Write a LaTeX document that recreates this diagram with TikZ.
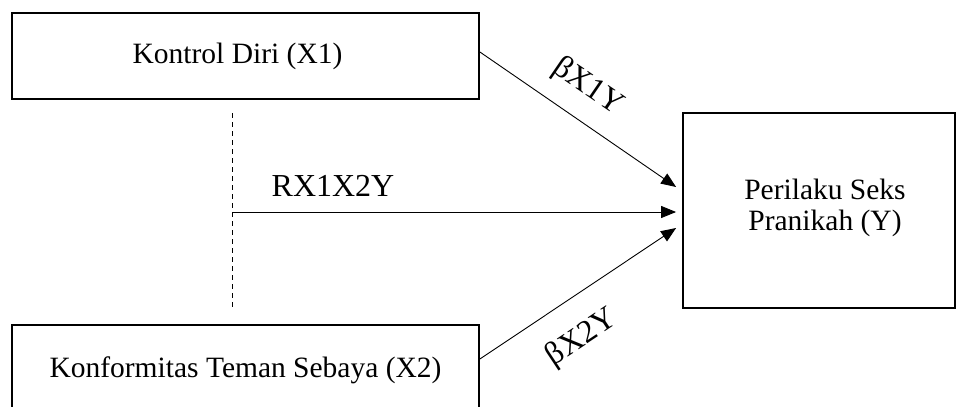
\documentclass[tikz,border=0pt]{standalone}
\usepackage{fontspec}
\setmainfont{Liberation Serif}
\usetikzlibrary{arrows.meta,calc}
\begin{document}
\begin{tikzpicture}[x=1pt,y=-1pt,
  box/.style={draw,line width=1.8pt,rectangle,inner sep=0pt,align=center,
    font=\fontsize{29.5}{31}\selectfont},
  link/.style={line width=0.9pt,-{Triangle[length=15pt,width=12pt]}},
  corr/.style={line width=0.9pt,dash pattern=on 5pt off 4pt},
  lbl/.style={font=\fontsize{32}{32}\selectfont,inner sep=0pt}]
\useasboundingbox (0,0) rectangle (956,407);

% variables
\node[box,minimum width=467pt,minimum height=86pt] (x1) at (245.5,56) {Kontrol Diri (X1)\hspace*{16pt}};
\node[box,minimum width=467pt,minimum height=90pt] (x2) at (245.5,370) {Konformitas Teman Sebaya (X2)};
\node[box,minimum width=272pt,minimum height=195pt] (y) at (819,210.5) {};
\node[box,draw=none] (ytext) at ([shift={(6pt,3pt)}]y.center) {Perilaku Seks\\Pranikah (Y)};

% correlation line between X1 and X2
\coordinate (c1) at (232,113);
\coordinate (c2) at (232,307);
\coordinate (c0) at (232,212);
\draw[corr] (c1) -- (c2);

% arrow start and end points
\coordinate (s1) at ([yshift=4pt]x1.east);
\coordinate (s2) at ([yshift=11pt]x2.east);
\coordinate (t1) at ([shift={(-6pt,23.5pt)}]y.west);
\coordinate (t0) at ([shift={(-6pt,-1.5pt)}]y.west);
\coordinate (t2) at ([shift={(-6pt,-17.5pt)}]y.west);

\draw[link] (s1) -- (t1);
\draw[link] (c0) -- (t0);
\draw[link] (s2) -- (t2);

% path labels
\node[lbl] (l0) at (333,186) {RX1X2Y};
\node[lbl,rotate=-34.4] (l1) at (588,87) {βX1Y};
\node[lbl,rotate=33.6] (l2) at (582,338) {βX2Y};
\end{tikzpicture}
\end{document}
